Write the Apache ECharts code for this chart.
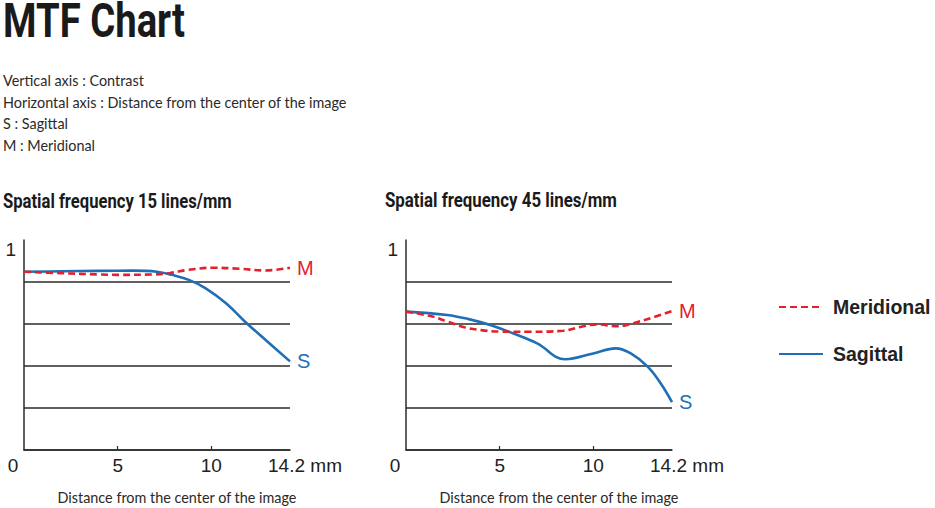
<!DOCTYPE html>
<html>
<head>
<meta charset="utf-8">
<script src="https://cdn.jsdelivr.net/npm/echarts@6/dist/echarts.min.js"></script>
<style>
  html, body { margin: 0; padding: 0; background: #fff; }
  #chart { width: 935px; height: 508px; }
</style>
</head>
<body>
<div id="chart"></div>
<script>
// distance from image centre (mm) and contrast
var dist15M = [0, 2, 4, 5, 6.9, 7.8, 8.7, 10.1, 11.5, 12.9, 14.2];
var mer15   = [0.849, 0.842, 0.836, 0.834, 0.836, 0.843, 0.857, 0.868, 0.863, 0.855, 0.868];
var dist15S = [0, 2, 4, 5.8, 7.1, 7.9, 8.8, 9.7, 10.8, 11.8, 12.9, 14.2];
var sag15   = [0.849, 0.851, 0.853, 0.854, 0.849, 0.834, 0.81, 0.77, 0.698, 0.611, 0.524, 0.422];

var dist45M = [0, 1.3, 2.2, 3.1, 4, 5, 6.6, 8.4, 9.3, 10.2, 11.3, 12.1, 13.2, 14.2];
var mer45   = [0.659, 0.638, 0.612, 0.585, 0.571, 0.564, 0.563, 0.568, 0.586, 0.598, 0.589, 0.603, 0.632, 0.662];
var dist45S = [0, 2.2, 3.4, 4.5, 5.7, 7, 8.5, 10, 11.2, 12, 12.9, 13.6, 14.2];
var sag45   = [0.659, 0.643, 0.622, 0.595, 0.556, 0.508, 0.432, 0.46, 0.484, 0.46, 0.397, 0.317, 0.228];

var xTicks = [0, 5, 10, 14.2];
var descLines = [
  'Vertical axis : Contrast',
  'Horizontal axis : Distance from the center of the image',
  'S : Sagittal',
  'M : Meridional'
];

var RED = '#e3202b';
var BLUE = '#1f6fb6';
var INK = '#2b2b2b';
var headFont = 'Roboto, "Liberation Sans", sans-serif';
var bodyFont = 'Lato, "Open Sans", sans-serif';
var numFont = '"Liberation Sans", Arial, sans-serif';

function pairs(xs, ys) {
  return xs.map(function (x, i) { return [x, ys[i]]; });
}

// headings are a condensed face in the original; squeeze Roboto bold to the same width
var measurer = document.createElement('canvas').getContext('2d');
function squeezedText(str, x, midY, size, targetWidth, lh) {
  measurer.font = 'bold ' + size + 'px ' + headFont;
  var w = measurer.measureText(str).width;
  return {
    type: 'text', x: x, y: midY, scaleX: targetWidth / w, silent: true,
    style: {
      text: str, fill: '#1a1a1a', textVerticalAlign: 'middle', lineHeight: lh,
      font: 'bold ' + size + 'px ' + headFont
    }
  };
}

function xAxisFor(idx) {
  return {
    gridIndex: idx, type: 'value', min: 0, max: 14.2,
    axisLine: { lineStyle: { color: INK, width: 1.5 } },
    axisTick: { show: true, inside: true, length: 4, customValues: [5, 10], lineStyle: { color: INK, width: 1.2 } },
    splitLine: { show: false },
    axisLabel: {
      customValues: xTicks, margin: 6, color: '#222', fontSize: 19, fontFamily: numFont,
      formatter: function (v) {
        if (v === 0) return '{l|0}';
        if (v > 14) return '{r|14.2 mm}';
        return String(v);
      },
      rich: {
        l: { padding: [0, 22, 0, 0], fontSize: 19, color: '#222' },
        r: { padding: [0, 0, 0, 30], fontSize: 19, color: '#222' }
      }
    }
  };
}

function yAxisFor(idx) {
  return {
    gridIndex: idx, type: 'value', min: 0, max: 1, interval: 0.2,
    axisLine: { show: true, lineStyle: { color: INK, width: 1.5 } },
    axisTick: { show: false },
    splitLine: { show: true, showMaxLine: false, lineStyle: { color: INK, width: 1.5 } },
    axisLabel: {
      margin: 8, verticalAlign: 'top', color: '#222', fontSize: 19, fontFamily: numFont,
      formatter: function (v) { return v === 1 ? '1' : ''; }
    }
  };
}

function lineSeries(name, idx, data, color, dashed, tag) {
  return {
    name: name, type: 'line', xAxisIndex: idx, yAxisIndex: idx,
    data: data, smooth: 0.4, symbol: 'none', silent: true,
    lineStyle: { color: color, width: 2.6, type: dashed ? [7, 4] : 'solid' },
    itemStyle: { color: color },
    endLabel: {
      show: true, formatter: tag, color: color, distance: 7,
      fontSize: 20, fontFamily: numFont
    },
    z: dashed ? 3 : 2
  };
}

var chart = echarts.init(document.getElementById('chart'), null, { renderer: 'svg' });
chart.setOption({
  animation: false,
  backgroundColor: '#fff',
  title: [
    { text: descLines.join('\n'), left: 3, top: 70, padding: 0,
      textStyle: { fontFamily: bodyFont, fontWeight: 'normal', fontSize: 14.4, lineHeight: 21.5, color: '#2a2a2a' } },
    { text: 'Distance from the center of the image', left: 177, top: 490, textAlign: 'center', padding: 0,
      textStyle: { fontFamily: bodyFont, fontWeight: 'normal', fontSize: 14.4, color: '#2a2a2a' } },
    { text: 'Distance from the center of the image', left: 559, top: 490, textAlign: 'center', padding: 0,
      textStyle: { fontFamily: bodyFont, fontWeight: 'normal', fontSize: 14.4, color: '#2a2a2a' } }
  ],
  graphic: [
    squeezedText('MTF Chart', 3, 20.5, 49, 182, 41),
    squeezedText('Spatial frequency 15 lines/mm', 3, 200.5, 20, 229, 20),
    squeezedText('Spatial frequency 45 lines/mm', 385, 200.5, 20, 232, 20)
  ],
  legend: {
    data: ['Meridional', 'Sagittal'],
    orient: 'vertical', left: 773, top: 292,
    itemWidth: 44, itemHeight: 14, itemGap: 27,
    itemStyle: { opacity: 0 },
    textStyle: { fontFamily: numFont, fontWeight: 'bold', fontSize: 19.5, color: '#222', padding: [0, 0, 0, 5] }
  },
  grid: [
    { left: 24, top: 240, width: 266, height: 210 },
    { left: 406, top: 240, width: 266, height: 210 }
  ],
  xAxis: [xAxisFor(0), xAxisFor(1)],
  yAxis: [yAxisFor(0), yAxisFor(1)],
  series: [
    lineSeries('Sagittal', 0, pairs(dist15S, sag15), BLUE, false, 'S'),
    lineSeries('Meridional', 0, pairs(dist15M, mer15), RED, true, 'M'),
    lineSeries('Sagittal', 1, pairs(dist45S, sag45), BLUE, false, 'S'),
    lineSeries('Meridional', 1, pairs(dist45M, mer45), RED, true, 'M')
  ]
});
</script>
</body>
</html>
